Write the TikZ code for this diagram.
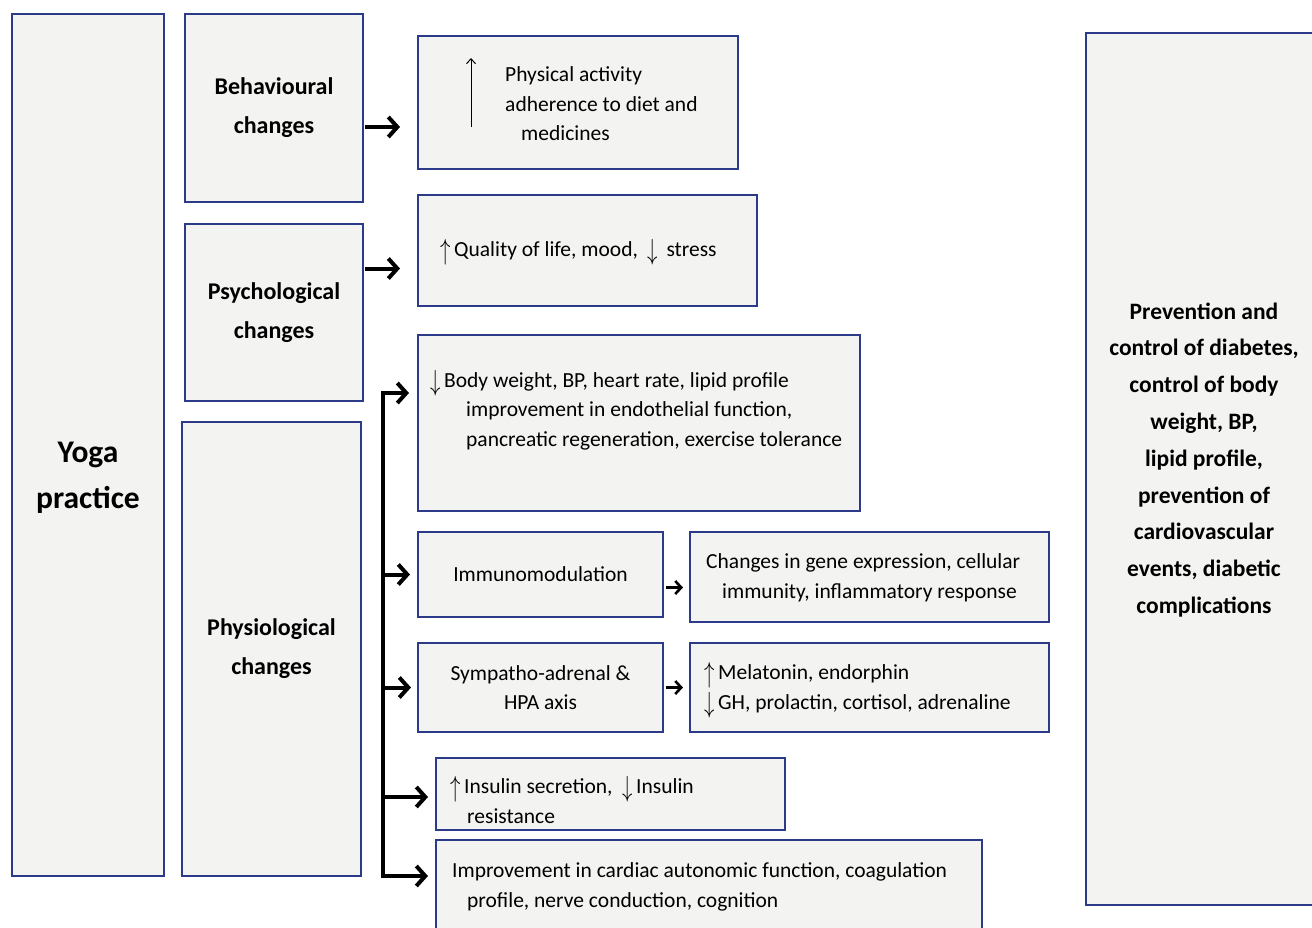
\documentclass[tikz,border=0pt]{standalone}
\usepackage{fontspec}
\setmainfont{Carlito}
\usepackage{tikz}
\usetikzlibrary{arrows.meta}

\definecolor{boxblue}{RGB}{44,58,138}
\definecolor{boxfill}{RGB}{243,243,241}

\newcommand{\upar}{\raisebox{-3pt}{\scalebox{1}[1.4]{$\uparrow$}}}
\newcommand{\dnar}{\raisebox{-3pt}{\scalebox{1}[1.4]{$\downarrow$}}}

\tikzset{
	box/.style={draw=boxblue, line width=2.2pt, fill=boxfill, anchor=north west, inner sep=0pt, outer sep=0pt},
	txt/.style={font=\fontsize{21.5}{29.5}\selectfont, align=left, inner sep=0pt, anchor=west},
	ctxt/.style={font=\fontsize{21.5}{29.5}\selectfont, align=center},
	headtxt/.style={font=\bfseries\fontsize{24}{39}\selectfont, align=center},
	arr/.style={line width=4pt, -{Straight Barb[length=9pt,width=20pt]}},
	smallarr/.style={line width=2.6pt, -{Straight Barb[length=6pt,width=13pt]}},
}

\begin{document}
\begin{tikzpicture}[x=1pt,y=-1pt]
	\useasboundingbox (0,0) rectangle (1312,927);
	\fill[white] (0,0) rectangle (1312,927);
	
	%Shape: Rectangle [yoga]
	\node[box, minimum width=152, minimum height=862] (yoga) at (12,14) {};
	% Text Node
	\node[font=\bfseries\fontsize{31.5}{46}\selectfont, align=center] (yogatxt) at ([yshift=-33pt]yoga.center) {Yoga\\practice};
	
	%Shape: Rectangle [left column]
	\node[box, headtxt, minimum width=178, minimum height=188] (beh) at (185,14) {Behavioural\\changes};
	\node[box, headtxt, minimum width=178, minimum height=177] (psy) at (185,224) {Psychological\\changes};
	\node[box, headtxt, minimum width=179, minimum height=454] (phy) at (182,422) {Physiological\\changes};
	
	%Shape: Rectangle [effects]
	\node[box, minimum width=320, minimum height=133] (b1) at (418,36) {};
	\node[box, minimum width=339, minimum height=111] (b2) at (418,195) {};
	\node[box, minimum width=442, minimum height=176] (b3) at (418,335) {};
	\node[box, ctxt, minimum width=245, minimum height=85] (imm) at (418,532) {Immunomodulation};
	\node[box, minimum width=359, minimum height=90] (chg) at (690,532) {};
	\node[box, ctxt, minimum width=245, minimum height=89] (sym) at (418,643) {Sympatho-adrenal \&\\HPA axis};
	\node[box, minimum width=359, minimum height=89] (mel) at (690,643) {};
	\node[box, minimum width=349, minimum height=72] (ins) at (436,758) {};
	\node[box, minimum width=546, minimum height=100] (imp) at (436,840) {};
	
	%Shape: Rectangle [outcome]
	\node[box, font=\bfseries\fontsize{23.5}{36.8}\selectfont, align=center, minimum width=236, minimum height=872, text depth=22pt] (out) at (1086,33) {Prevention and\\control of diabetes,\\control of body\\weight, BP,\\lipid profile,\\prevention of\\cardiovascular\\events, diabetic\\complications};
	
	% Text Node
	\node[txt] (t1) at (505,104) {Physical activity\\adherence to diet and\\\hspace*{16pt}medicines};
	\draw[line width=1pt, -{Straight Barb[length=5pt,width=9pt]}] (471,127) -- (471,58);
	% Text Node
	\node[txt] (t2) at (440,252) {\upar\,Quality of life, mood, \ \dnar\, stress};
	% Text Node
	\node[txt] (t3) at (430,410) {\dnar\,Body weight, BP, heart rate, lipid profile\\\hspace*{36pt}improvement in endothelial function,\\\hspace*{36pt}pancreatic regeneration, exercise tolerance};
	% Text Node
	\node[txt] (t4) at (706,578) {Changes in gene expression, cellular\\\hspace*{16pt}immunity, inflammatory response};
	% Text Node
	\node[txt] (t5) at (704,690) {\upar\,Melatonin, endorphin\\\dnar\,GH, prolactin, cortisol, adrenaline};
	% Text Node
	\node[txt] (t6) at (450,800) {\upar\,Insulin secretion, \ \dnar\,Insulin\\\hspace*{17pt}resistance};
	% Text Node
	\node[txt] (t7) at (452,887) {Improvement in cardiac autonomic function, coagulation\\\hspace*{15pt}profile, nerve conduction, cognition};
	
	%Arrows
	\draw[arr, shorten >=18pt, shorten <=2pt] ([yshift=-19pt]beh.east) -- ([yshift=-19pt]beh.east -| b1.west);
	\draw[arr, shorten >=18pt, shorten <=2pt] ([yshift=44pt]psy.east) -- ([yshift=44pt]psy.east -| b2.west);
	
	\coordinate (sptop) at (383,393);
	\coordinate (spbot) at (383,876);
	\draw[arr, shorten >=9pt] (spbot) -- (sptop) -- (sptop -| b3.west);
	\draw[arr, shorten >=8pt] ([xshift=-2pt]spbot) -- (spbot -| imp.west);
	\draw[arr, shorten >=8pt] (imm.west -| sptop) -- (imm.west);
	\draw[arr, shorten >=7pt] (sym.west -| sptop) -- (sym.west);
	\draw[arr, shorten >=8pt] ([yshift=-3pt]ins.west -| sptop) -- ([yshift=-3pt]ins.west);
	
	\draw[smallarr, shorten >=7pt, shorten <=3pt] ([yshift=-13pt]imm.east) -- ([yshift=-13pt]imm.east -| chg.west);
	\draw[smallarr, shorten >=7pt, shorten <=3pt] (sym.east) -- (sym.east -| mel.west);
	
\end{tikzpicture}
\end{document}
